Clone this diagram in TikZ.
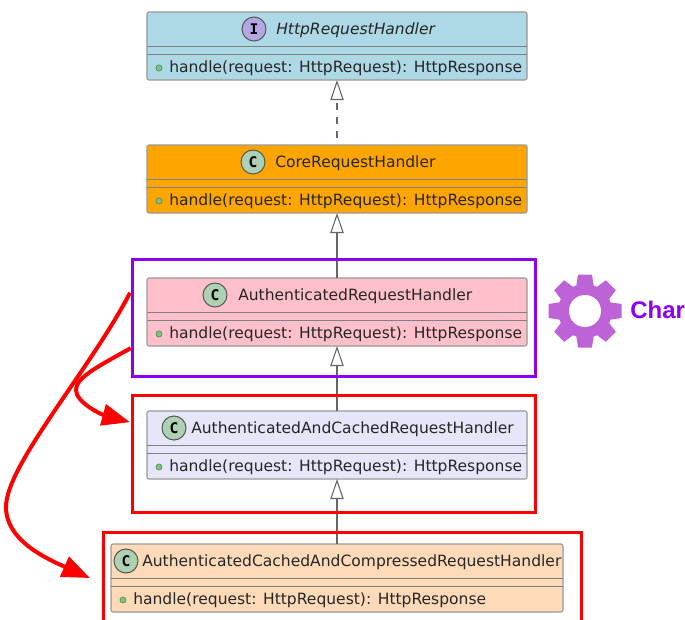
\documentclass[tikz,border=0pt]{standalone}
\usepackage{fontspec}
\setmainfont{DejaVu Sans}
\setmonofont{DejaVu Sans Mono}
\newfontfamily\tagfont{Liberation Sans}
\usepackage{tikz}
\usetikzlibrary{arrows.meta}
\definecolor{ifaceblue}{HTML}{ADD8E6}
\definecolor{coreorange}{HTML}{FFA500}
\definecolor{authpink}{HTML}{FFC0CB}
\definecolor{cachelav}{HTML}{E6E6FA}
\definecolor{comppeach}{HTML}{FFDAB9}
\definecolor{classspot}{HTML}{ADD1B2}
\definecolor{ifacespot}{HTML}{B4A7E5}
\definecolor{changeviolet}{HTML}{8B00F0}
\definecolor{gearorchid}{HTML}{BE62D8}
\definecolor{publicdot}{HTML}{84BE84}
\tikzset{
  classbox/.style={draw=black!40, line width=0.8pt, rounded corners=1.5pt, outer sep=0pt, minimum height=51pt},
  classline/.style={draw=black!50, line width=0.7pt},
  spot/.style={circle, draw=black!65, line width=0.8pt, minimum size=18pt, inner sep=0pt, font=\ttfamily\bfseries\fontsize{11}{12}\selectfont},
  classtext/.style={anchor=west, inner sep=0pt, text=black!85, font=\fontsize{11.65}{13}\selectfont},
  publicmark/.style={circle, draw=green!40!black!70, fill=publicdot, line width=0.5pt, minimum size=4.6pt, inner sep=0pt},
  extends/.style={draw=black!60, line width=0.8pt, -{Triangle[length=15pt, width=10pt, fill=white]}},
  frame/.style={draw, line width=2.25pt, outer sep=0pt, minimum width=302.25pt, minimum height=87.75pt},
  movearrow/.style={draw=red, line width=3pt, -{Triangle[length=21pt, width=16pt, fill=red]}}
}
\begin{document}
\begin{tikzpicture}[x=0.75pt, y=-0.75pt]
  \useasboundingbox (0,0) rectangle (685,619);
  \clip (0,0) rectangle (685,619);
  \fill[white] (0,0) rectangle (685,619);
  % classes: name / top / left / width / fill / spot x / spot fill / letter / title x / title
  \foreach \n/\ty/\lx/\boxw/\boxfill/\sx/\spotfill/\letter/\tx/\ttl in {
    iface/12/147/285pt/ifaceblue/254/ifacespot/I/276/{\itshape HttpRequestHandler},
    core/145/147/285pt/coreorange/253/classspot/C/275/CoreRequestHandler,
    auth/278/147/285pt/authpink/215/classspot/C/238/AuthenticatedRequestHandler,
    cached/411/147/285pt/cachelav/174/classspot/C/191/AuthenticatedAndCachedRequestHandler,
    compressed/544/111/339pt/comppeach/126/classspot/C/142/AuthenticatedCachedAndCompressedRequestHandler}{
    \node[classbox, fill=\boxfill, minimum width=\boxw] (\n) at (337,\ty+34) {};
    \draw[classline] ([yshift=-25.5pt]\n.north west) -- ([yshift=-25.5pt]\n.north east);
    \draw[classline] ([yshift=-31.5pt]\n.north west) -- ([yshift=-31.5pt]\n.north east);
    \node[spot, fill=\spotfill] (\n-spot) at (\sx,\ty+17) {\letter};
    \node[classtext] (\n-title) at (\tx,\ty+18) {\ttl};
    \node[publicmark] (\n-dot) at (\lx+12,\ty+56) {};
    \node[classtext] (\n-member) at (\lx+22,\ty+56) {handle(request: HttpRequest): HttpResponse};
  }
  % inheritance
  \draw[extends, dash pattern=on 5pt off 5.5pt, dash phase=5pt] (core.north) -- (iface.south);
  \draw[extends] (auth.north) -- (core.south);
  \draw[extends] (cached.north) -- (auth.south);
  \draw[extends] (compressed.north) -- (cached.south);
  % frames
  \node[frame, draw=changeviolet] (authframe) at (333.5,317.5) {};
  \node[frame, draw=red] (cachedframe) at (333.5,453.5) {};
  \node[frame, draw=red, minimum width=358.5pt, minimum height=90pt] (compressedframe) at (342,592) {};
  % moves
  \draw[movearrow] ([xshift=-1.5pt, yshift=18.5pt]authframe.west) .. controls (90,370) and (6,465) .. (6,507) .. controls (6,540) and (45,558) .. ([xshift=-9.75pt, yshift=10.5pt]compressedframe.west);
  \draw[movearrow] ([xshift=-1pt, yshift=-23pt]authframe.west) .. controls (95,368) and (76,378) .. (76,390) .. controls (76,402) and (100,414) .. ([xshift=-1.5pt, yshift=23.5pt]cachedframe.west);
  % gear
  \fill[gearorchid] (585,311) circle (27);
  \foreach \a in {0,45,...,315}
    \fill[gearorchid, rotate around={\a:(585,311)}] (576,288) -- (578,274.5) -- (592,274.5) -- (594,288) -- cycle;
  \fill[white] (585,311) circle (16);
  \node[anchor=base west, inner sep=0pt, text=changeviolet, font=\tagfont\bfseries\fontsize{18}{20}\selectfont] (changetag) at (630,318) {Char};
\end{tikzpicture}
\end{document}
